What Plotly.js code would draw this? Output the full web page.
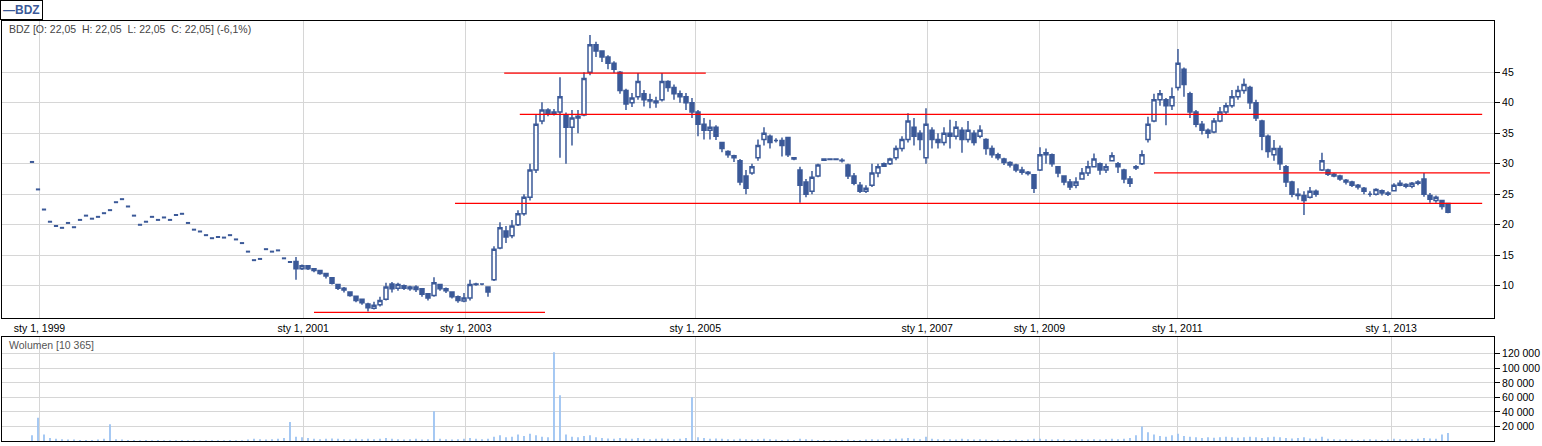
<!DOCTYPE html>
<html>
<head>
<meta charset="utf-8">
<script src="https://cdn.plot.ly/plotly-3.0.1.min.js"></script>
<style>html,body{margin:0;padding:0;background:#fff;}#chart{width:1542px;height:446px;}</style>
</head>
<body>
<div id="chart"></div>
<script>
// ---- data (session index positions) ----
const DASH_START = 5;      // first session with single-trade (O=H=L=C) quotes
const CANDLE_START = 49;   // first session drawn as a full candle
const VOL_START = 5;

// early single-price sessions (drawn as dashes)
const earlyPrice = [
  30.3, 25.8, 22.5, 20.5, 19.8, 19.5, 20.3, 19.6, 20.8, 21.5,
  21.0, 21.3, 21.9, 22.4, 23.7, 24.2, 23.0, 21.5, 20.0, 20.5,
  21.3, 20.8, 21.2, 20.8, 21.6, 21.8, 20.3, 19.2, 18.9, 18.3,
  17.8, 18.0, 17.9, 18.3, 17.6, 17.0, 15.6, 14.2, 14.4, 16.0,
  15.6, 15.8, 14.5, 13.9
];

const openP = [
  14.0, 12.8, 13.3, 12.8, 12.5, 12.0, 11.3, 10.2, 9.6, 9.0,
  8.3, 7.8, 7.0, 6.3, 6.9, 7.8, 10.3, 9.6, 10.0, 9.8,
  9.4, 9.5, 8.7, 8.4, 10.2, 9.5, 9.0, 8.2, 7.5, 8.0,
  10.2, 10.3, 9.8, 11.0, 16.2, 19.0, 18.2, 20.0, 21.8, 24.5,
  29.0, 37.0, 38.8, 38.2, 38.5, 38.0, 36.0, 37.5, 38.0, 45.0,
  49.5, 48.5, 47.5, 46.5, 45.0, 42.0, 40.0, 41.0, 41.5, 40.5,
  40.3, 40.5, 43.5, 42.5, 41.5, 41.0, 40.0, 38.5, 36.5, 35.5,
  36.0, 33.5, 32.0, 31.3, 30.5, 28.0, 28.5, 31.0, 34.0, 34.5,
  33.8, 33.8, 34.3, 31.0, 29.0, 27.0, 25.5, 28.0, 30.6, 30.8,
  30.7, 30.6, 29.8, 28.0, 26.5, 25.5, 26.5, 28.5, 29.6, 30.0,
  31.0, 32.5, 34.0, 36.0, 35.0, 31.0, 35.5, 34.0, 33.5, 35.0,
  34.5, 35.5, 34.0, 35.0, 34.5, 34.0, 32.5, 31.5, 30.8, 30.2,
  29.8, 29.0, 28.6, 28.2, 29.0, 31.5, 31.5, 29.5, 28.0, 27.0,
  26.5, 27.5, 28.5, 29.5, 30.0, 29.0, 30.5, 30.0, 29.0, 27.5,
  29.3, 30.0, 34.0, 37.0, 40.5, 40.5, 39.5, 42.5, 45.5, 41.5,
  38.5, 36.5, 35.5, 35.2, 37.0, 38.5, 39.5, 41.0, 42.0, 42.5,
  40.0, 37.0, 34.5, 31.5, 32.5, 29.5, 27.0, 25.0, 24.8, 24.5,
  25.5, 29.0, 29.0, 28.3, 28.0, 27.3, 27.0, 26.5, 26.0, 25.0,
  25.0, 25.6, 25.2, 25.6, 26.5, 26.6, 26.3, 26.8, 27.5, 24.8,
  24.0, 24.0, 23.5
];
const highP = [
  14.7, 13.5, 13.3, 12.9, 12.5, 12.0, 11.4, 10.3, 9.8, 9.1,
  8.4, 7.9, 7.2, 7.4, 8.2, 10.5, 10.6, 10.5, 10.2, 10.0,
  10.1, 9.6, 8.8, 11.4, 10.3, 9.7, 9.1, 8.4, 8.8, 11.0,
  10.5, 10.4, 9.9, 16.5, 20.4, 19.8, 20.8, 22.4, 25.0, 30.0,
  38.0, 40.1, 39.1, 39.0, 44.2, 38.4, 38.8, 38.8, 45.0, 51.1,
  50.0, 48.5, 47.8, 46.8, 45.2, 42.3, 41.6, 44.9, 42.1, 41.5,
  41.0, 44.9, 43.7, 43.0, 42.0, 41.6, 40.8, 38.8, 37.5, 37.2,
  36.3, 33.5, 32.2, 31.5, 30.8, 29.0, 30.0, 34.0, 36.0, 34.8,
  34.2, 34.3, 34.3, 31.1, 29.5, 27.5, 28.8, 30.0, 30.9, 30.9,
  30.9, 30.9, 30.0, 28.5, 27.0, 26.5, 30.0, 30.0, 30.2, 31.0,
  33.0, 34.5, 38.3, 37.5, 35.5, 39.1, 36.0, 35.0, 36.0, 37.2,
  37.0, 36.0, 37.0, 35.5, 36.3, 34.2, 33.0, 31.8, 31.0, 30.4,
  30.0, 29.5, 28.8, 28.3, 32.7, 32.5, 31.7, 29.5, 28.0, 27.5,
  27.8, 29.3, 30.5, 31.7, 30.2, 30.0, 31.9, 30.3, 29.2, 28.0,
  29.8, 32.2, 37.7, 41.5, 42.1, 40.8, 42.5, 48.8, 45.8, 41.8,
  38.8, 37.0, 35.8, 37.5, 39.3, 40.0, 42.1, 42.8, 44.0, 42.8,
  40.5, 37.2, 34.8, 33.9, 33.0, 29.8, 27.2, 26.0, 25.5, 26.2,
  25.8, 31.8, 29.2, 28.5, 28.2, 27.5, 27.2, 26.7, 26.2, 25.5,
  26.0, 25.8, 25.5, 26.8, 27.3, 26.8, 27.0, 27.3, 28.5, 25.2,
  24.8, 24.1, 23.5
];
const lowP = [
  11.0, 12.6, 12.6, 12.2, 11.8, 11.2, 10.2, 9.3, 8.9, 8.2,
  7.3, 6.9, 5.8, 6.1, 6.6, 7.6, 8.9, 9.2, 9.3, 9.2,
  9.0, 8.2, 7.6, 8.2, 9.2, 8.8, 7.9, 7.2, 7.3, 7.6,
  10.0, 10.1, 8.2, 10.8, 16.0, 17.0, 17.8, 19.8, 21.5, 24.0,
  28.5, 36.5, 37.8, 37.9, 31.0, 30.0, 33.0, 35.0, 37.8, 44.5,
  47.5, 46.7, 45.5, 44.9, 41.5, 38.8, 39.3, 40.5, 39.4, 39.1,
  39.2, 40.2, 41.8, 40.5, 40.0, 38.8, 37.5, 34.5, 34.0, 34.0,
  33.9, 31.9, 31.0, 30.3, 26.5, 25.0, 28.2, 30.5, 33.0, 32.5,
  33.5, 31.2, 31.1, 30.6, 23.6, 24.5, 25.0, 27.8, 30.5, 30.6,
  30.6, 30.2, 27.5, 26.5, 25.2, 25.2, 26.2, 27.8, 29.5, 29.8,
  30.6, 32.0, 33.5, 33.0, 32.2, 30.0, 32.5, 32.5, 33.0, 32.5,
  34.0, 31.8, 33.5, 33.0, 34.2, 31.5, 31.0, 30.6, 29.8, 29.4,
  28.6, 28.2, 28.1, 25.2, 28.8, 30.0, 29.5, 27.8, 26.5, 25.7,
  26.0, 27.5, 28.0, 29.5, 28.2, 28.5, 30.5, 28.5, 26.8, 26.2,
  29.0, 29.8, 33.5, 36.8, 39.5, 36.3, 38.8, 42.0, 41.0, 37.5,
  36.0, 34.8, 34.2, 35.0, 36.8, 38.0, 39.2, 40.5, 41.5, 39.0,
  37.0, 32.2, 31.0, 30.5, 29.0, 26.2, 24.5, 24.1, 21.6, 24.3,
  24.6, 28.8, 28.0, 27.8, 27.2, 26.6, 26.2, 25.8, 25.0, 24.6,
  24.8, 24.8, 24.7, 25.5, 26.3, 26.0, 26.0, 26.5, 24.6, 23.6,
  23.6, 22.5, 21.9
];
const closeP = [
  12.8, 13.3, 12.8, 12.5, 12.0, 11.6, 10.4, 9.6, 9.3, 8.4,
  7.6, 7.2, 6.4, 6.8, 7.6, 9.8, 9.5, 10.2, 9.6, 9.5,
  9.8, 8.6, 8.0, 10.5, 9.5, 9.2, 8.2, 7.6, 8.0, 10.2,
  10.3, 10.3, 9.0, 16.0, 19.5, 18.0, 19.8, 21.8, 24.5, 29.0,
  36.5, 38.8, 38.3, 38.5, 41.0, 36.0, 37.5, 37.8, 44.0, 49.5,
  48.5, 47.5, 46.5, 45.5, 42.0, 39.8, 40.8, 43.5, 40.5, 40.3,
  40.0, 43.5, 42.5, 41.5, 41.0, 40.0, 38.5, 36.5, 35.5, 36.0,
  34.5, 32.5, 31.5, 31.0, 27.0, 26.0, 29.5, 33.0, 35.0, 33.5,
  33.8, 33.0, 31.5, 30.8, 26.5, 25.0, 27.8, 29.8, 30.8, 30.7,
  30.8, 30.5, 28.0, 26.8, 25.5, 26.0, 28.5, 29.5, 30.0, 30.8,
  32.5, 34.0, 37.0, 34.5, 34.0, 36.5, 34.0, 33.5, 35.0, 34.5,
  36.0, 34.0, 35.5, 33.5, 35.5, 32.5, 31.5, 31.0, 30.2, 29.8,
  29.0, 28.6, 28.4, 26.0, 31.5, 31.8, 30.0, 28.5, 27.0, 26.2,
  27.0, 28.5, 29.5, 30.8, 29.0, 29.5, 31.3, 29.5, 27.5, 26.8,
  29.5, 31.5, 36.5, 40.5, 41.5, 39.5, 41.0, 46.5, 43.0, 38.5,
  36.5, 35.5, 35.0, 37.0, 38.5, 39.5, 41.0, 42.0, 43.0, 40.0,
  37.5, 34.5, 32.0, 32.5, 30.0, 27.0, 25.0, 24.8, 24.0, 25.5,
  25.0, 30.5, 28.3, 28.0, 27.5, 27.0, 26.5, 26.2, 25.5, 25.0,
  25.8, 25.2, 25.0, 26.5, 26.8, 26.3, 26.8, 27.0, 25.0, 24.2,
  24.5, 23.0, 22.05
];

const volume = [
  8000, 32000, 9000, 4000, 3000, 2500, 2000, 2000, 1500, 1500,
  1500, 2000, 3000, 23000, 2500, 2000, 1500, 1500, 1000, 1500,
  1000, 1500, 1000, 1200, 1000, 1500, 1000, 1200, 800, 1000,
  1000, 1200, 900, 1500, 1000, 1200, 2000, 3000, 2500, 2000,
  2500, 3000, 4000, 26000, 6000, 5000, 4000, 3000, 2500, 3000,
  3500, 3000, 2500, 2000, 3000, 2500, 3000, 2500, 3000, 4000,
  3000, 2500, 2000, 2500, 3000, 2000, 2500, 41000, 3000, 2500,
  2000, 2500, 3000, 4000, 3000, 2500, 3000, 6000, 8000, 5000,
  6000, 9000, 7000, 10000, 8000, 6000, 5000, 122000, 63000, 9000,
  6000, 5000, 7000, 8000, 5000, 4000, 3500, 3000, 4000, 3500,
  3000, 4000, 3000, 2500, 3000, 3500, 3000, 2500, 3000, 4000,
  60000, 5000, 4000, 3000, 3500, 3000, 2500, 2000, 3000, 2500,
  2000, 2500, 3000, 2500, 2000, 1500, 2000, 1500, 3000, 2500,
  2000, 1500, 1500, 1200, 1000, 1500, 2000, 1500, 1500, 2000,
  2500, 2000, 2000, 2500, 3000, 3500, 4000, 3000, 2500, 6000,
  3000, 2500, 2000, 2500, 2000, 3000, 2500, 2000, 2500, 2000,
  1500, 2000, 1500, 1500, 2000, 1500, 2000, 3000, 3000, 2500,
  2000, 2500, 2000, 1500, 2000, 2500, 2000, 2500, 2000, 2500,
  3000, 2500, 3000, 4000, 8000, 20000, 12000, 9000, 7000, 6000,
  8000, 10000, 7000, 6000, 5000, 4000, 5000, 4500, 5000, 6000,
  5000, 4500, 5000, 6000, 5000, 4000, 5000, 6000, 5000, 4000,
  3500, 4000, 5000, 3500, 3000, 6000, 3000, 2500, 2000, 2500,
  2000, 1500, 2000, 2500, 2000, 1500, 2000, 3000, 2500, 2000,
  2500, 3000, 4000, 3500, 3000, 9000, 11000
];

// x-axis ticks (session index of first session of the year)
const tickIndex = [6.25, 50.2, 77.3, 115.55, 154.2, 172.9, 195.9, 231.55];
const tickText = ['sty 1, 1999', 'sty 1, 2001', 'sty 1, 2003', 'sty 1, 2005',
                  'sty 1, 2007', 'sty 1, 2009', 'sty 1, 2011', 'sty 1, 2013'];
const priceTicks = [10, 15, 20, 25, 30, 35, 40, 45];
const volumeTicks = [20000, 40000, 60000, 80000, 100000, 120000];

// drawn support / resistance lines
const lineLevel = [5.65, 23.5, 38.1, 44.85, 28.5];
const lineFrom  = [52, 75.5, 86.3, 83.7, 192];
const lineTo    = [90.5, 246.7, 246.7, 117.3, 248];

// ---- build ----
const BLUE = '#3B5998';
const idx = (start, n) => Array.from({length: n}, (_, i) => start + i);
const xDash = idx(DASH_START, earlyPrice.length);
const xCandle = idx(CANDLE_START, closeP.length);
const xVol = idx(VOL_START, volume.length);

const traces = [
  {
    type: 'scatter', mode: 'markers', x: xDash, y: earlyPrice,
    xaxis: 'x', yaxis: 'y', hoverinfo: 'skip', showlegend: false,
    marker: {symbol: 'line-ew', size: 3, color: BLUE, line: {color: BLUE, width: 2}}
  },
  {
    type: 'candlestick', x: xCandle, open: openP, high: highP, low: lowP, close: closeP,
    xaxis: 'x', yaxis: 'y', hoverinfo: 'skip', showlegend: false,
    increasing: {line: {color: BLUE, width: 1.5}, fillcolor: '#ffffff'},
    decreasing: {line: {color: BLUE, width: 1.5}, fillcolor: BLUE},
    whiskerwidth: 0
  },
  {
    type: 'bar', x: xVol, y: volume, xaxis: 'x2', yaxis: 'y2',
    marker: {color: '#9cc3f2', line: {width: 0}}, width: 0.3,
    hoverinfo: 'skip', showlegend: false
  }
];
lineLevel.forEach((lv, k) => {
  traces.push({
    type: 'scatter', mode: 'lines', x: [lineFrom[k], lineTo[k]], y: [lv, lv],
    xaxis: 'x', yaxis: 'y', line: {color: '#ff0000', width: 1.2},
    hoverinfo: 'skip', showlegend: false
  });
});

const FONT = 'Liberation Sans, Arial, sans-serif';
const GRID = '#d6d6d6';
const layout = {
  width: 1542, height: 446,
  margin: {l: 2, r: 48, t: 21, b: 5},
  paper_bgcolor: '#ffffff', plot_bgcolor: '#ffffff',
  separators: ', ',
  boxgap: 0.05,
  font: {family: FONT, size: 10.5, color: '#000'},
  showlegend: false,
  xaxis: {
    domain: [0, 1], anchor: 'y', range: [0, 248.67],
    tickmode: 'array', tickvals: tickIndex, ticktext: tickText,
    showgrid: true, gridcolor: GRID, gridwidth: 1,
    showline: true, linecolor: '#000', linewidth: 1, mirror: true,
    ticks: '', zeroline: false, rangeslider: {visible: false},
    tickfont: {family: FONT, size: 10.5, color: '#000'}
  },
  yaxis: {
    domain: [0.2929, 1], anchor: 'x', side: 'right', range: [4.72, 53.41],
    tickmode: 'array', tickvals: priceTicks,
    showgrid: true, gridcolor: GRID, gridwidth: 1,
    showline: true, linecolor: '#000', linewidth: 1, mirror: true,
    ticks: 'outside', ticklen: 5, tickcolor: '#000', zeroline: false,
    tickfont: {family: FONT, size: 10.5, color: '#000'}
  },
  xaxis2: {
    domain: [0, 1], anchor: 'y2', matches: 'x', range: [0, 248.67],
    tickmode: 'array', tickvals: tickIndex, showticklabels: false,
    showgrid: true, gridcolor: GRID, gridwidth: 1,
    showline: true, linecolor: '#000', linewidth: 1, mirror: true,
    ticks: '', zeroline: false
  },
  yaxis2: {
    domain: [0, 0.2476], anchor: 'x2', side: 'right', range: [0, 143000],
    tickmode: 'array', tickvals: volumeTicks, tickformat: ',d',
    showgrid: true, gridcolor: GRID, gridwidth: 1,
    showline: true, linecolor: '#000', linewidth: 1, mirror: true,
    ticks: 'outside', ticklen: 5, tickcolor: '#000', zeroline: false,
    tickfont: {family: FONT, size: 10.5, color: '#000'}
  },
  annotations: [
    {
      xref: 'paper', yref: 'paper', x: -0.0013, y: 1.05, xanchor: 'left', yanchor: 'top',
      text: '<b>\u2014BDZ</b>', showarrow: false, align: 'left',
      font: {family: FONT, size: 12, color: BLUE},
      bordercolor: '#000', borderwidth: 1, borderpad: 2, bgcolor: '#fff'
    },
    {
      xref: 'paper', yref: 'paper', x: 0.0034, y: 0.980, xanchor: 'left', yanchor: 'middle',
      text: 'BDZ [O: 22,05\u00a0\u00a0H: 22,05\u00a0\u00a0L: 22,05\u00a0\u00a0C: 22,05] (-6,1%)',
      showarrow: false, font: {family: FONT, size: 10.5, color: '#444'}
    },
    {
      xref: 'paper', yref: 'paper', x: 0.0032, y: 0.2286, xanchor: 'left', yanchor: 'middle',
      text: 'Wolumen [10 365]', showarrow: false,
      font: {family: FONT, size: 10.5, color: '#555'}
    }
  ]
};

Plotly.newPlot('chart', traces, layout, {staticPlot: true, displayModeBar: false});
</script>
</body>
</html>
